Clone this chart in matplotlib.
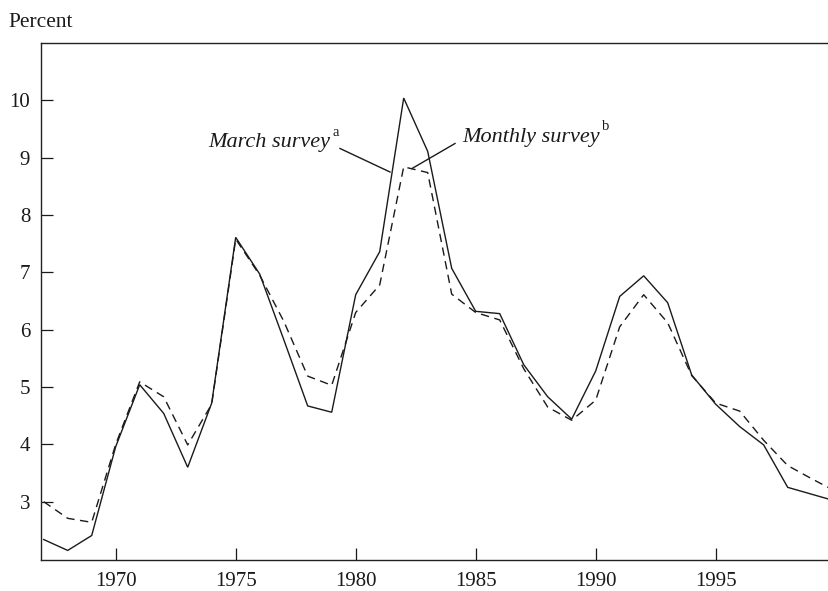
import matplotlib
matplotlib.use("Agg")
import matplotlib.pyplot as plt

years = list(range(1967, 2001))
march_survey = [2.34, 2.15, 2.41, 3.96, 5.04, 4.54, 3.60, 4.72, 7.61, 6.97,
                5.83, 4.67, 4.56, 6.61, 7.36, 10.04, 9.11, 7.07, 6.32, 6.28,
                5.39, 4.83, 4.44, 5.28, 6.58, 6.94, 6.47, 5.21, 4.70, 4.31,
                3.99, 3.25, 3.13, 3.01]
monthly_survey = [3.00, 2.71, 2.64, 4.00, 5.09, 4.83, 3.99, 4.70, 7.58, 6.95,
                  6.15, 5.19, 5.03, 6.30, 6.78, 8.84, 8.74, 6.62, 6.30, 6.17,
                  5.32, 4.65, 4.42, 4.77, 6.05, 6.61, 6.12, 5.20, 4.72, 4.58,
                  4.07, 3.63, 3.40, 3.18]
x_ticks = [1970, 1975, 1980, 1985, 1990, 1995]
y_ticks = [3, 4, 5, 6, 7, 8, 9, 10]

plt.rcParams['font.family'] = ['Liberation Serif', 'DejaVu Serif']

W, H = 829, 591
fig = plt.figure(figsize=(W / 100, H / 100), dpi=100)

def fx(px):
    return px / W

def fy(py):
    return 1 - py / H

ax_left, ax_top, ax_bottom = 41.3, 43, 560
ax = fig.add_axes([fx(ax_left), fy(ax_bottom), 1 - fx(ax_left), (ax_bottom - ax_top) / H])

col = '#1a1a1a'
ax.plot(years, march_survey, color=col, lw=1.0, solid_joinstyle='miter')
ax.plot(years, monthly_survey, color=col, lw=1.0, dashes=(6, 4))

ax.set_xlim(1966.9, 1966.9 + (W - ax_left) / 24.0)
ax.set_ylim(1.983, 11.0)
ax.set_xticks(x_ticks)
ax.set_yticks(y_ticks)
ax.set_xticklabels([str(t) for t in x_ticks])
ax.set_yticklabels([str(t) for t in y_ticks])
ax.tick_params(direction='in', length=8.5, width=0.9, colors=col, labelsize=15, pad=8)
ax.tick_params(axis='x', pad=9)
for s in ['left', 'bottom', 'top']:
    ax.spines[s].set_linewidth(1.0)
    ax.spines[s].set_color('#222222')
ax.spines['right'].set_visible(False)

fig.text(fx(8), fy(27), 'Percent', fontsize=15.5, color=col, ha='left', va='baseline')

# annotations
t1 = fig.text(fx(208), fy(147), 'March survey', fontsize=16, style='italic', color=col,
              ha='left', va='baseline')
t2 = fig.text(fx(462), fy(142), 'Monthly survey', fontsize=16, style='italic', color=col,
              ha='left', va='baseline')
fig.canvas.draw()
r = fig.canvas.get_renderer()
b1 = t1.get_window_extent(r)
b2 = t2.get_window_extent(r)
fig.text((b1.x1 + 3) / W, fy(136), 'a', fontsize=10.5, color=col, ha='left', va='baseline')
fig.text((b2.x1 + 2) / W, fy(129.5), 'b', fontsize=10.5, color=col, ha='left', va='baseline')

fig.add_artist(plt.Line2D([fx(340), fx(390)], [fy(148.5), fy(172)], color=col, lw=1.0))
fig.add_artist(plt.Line2D([fx(455), fx(412)], [fy(143.5), fy(168.5)], color=col, lw=1.0))

fig.savefig('out.png', dpi=100, facecolor='white')
